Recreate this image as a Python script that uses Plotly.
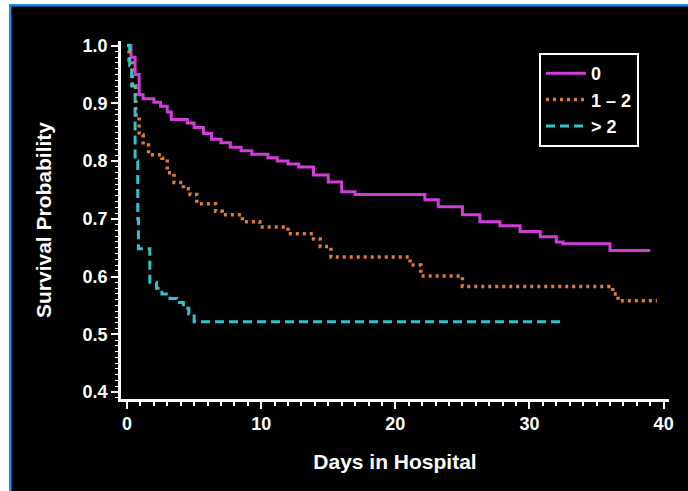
import plotly.graph_objects as go

# ---- data ----
days_0 = [0, 0.3, 0.6, 0.9, 1.2, 2.0, 2.5, 3.0, 3.3, 4.5, 5.0, 5.7, 6.3, 7.0, 7.7, 8.5, 9.3,
          10.5, 11.2, 12.0, 12.8, 13.9, 15.0, 16.0, 17.0, 22.2, 23.2, 25.0, 26.3, 27.8, 29.3,
          30.8, 32.0, 32.5, 36.0, 39.0]
surv_0 = [1.0, 0.98, 0.95, 0.915, 0.908, 0.902, 0.895, 0.885, 0.872, 0.866, 0.858, 0.848, 0.838,
          0.832, 0.824, 0.818, 0.812, 0.806, 0.800, 0.795, 0.790, 0.776, 0.764, 0.747, 0.742,
          0.733, 0.721, 0.707, 0.695, 0.688, 0.678, 0.669, 0.660, 0.657, 0.645, 0.645]

days_12 = [0, 0.15, 0.4, 0.65, 0.9, 1.2, 1.6, 2.6, 3.0, 3.5, 4.2, 4.7, 5.2, 6.6, 7.1, 8.6, 9.9,
           12.0, 13.9, 14.4, 15.2, 21.1, 21.9, 25.0, 36.2, 36.6, 39.5]
surv_12 = [1.0, 0.975, 0.93, 0.88, 0.845, 0.828, 0.811, 0.805, 0.78, 0.763, 0.752, 0.742, 0.726,
           0.713, 0.707, 0.695, 0.686, 0.674, 0.665, 0.652, 0.634, 0.62, 0.601, 0.583, 0.57,
           0.558, 0.558]

days_gt2 = [0, 0.2, 0.35, 0.6, 0.8, 0.85, 1.7, 2.2, 2.6, 3.2, 3.7, 4.2, 4.6, 5.0, 32.4]
surv_gt2 = [1.0, 0.965, 0.93, 0.80, 0.70, 0.648, 0.59, 0.58, 0.57, 0.562, 0.555, 0.545, 0.535,
            0.522, 0.522]

series_names = ["0", "1 \u2013 2", "> 2"]
x_ticks = [0, 10, 20, 30, 40]
y_ticks = [0.4, 0.5, 0.6, 0.7, 0.8, 0.9, 1.0]
y_tick_labels = ["0.4", "0.5", "0.6", "0.7", "0.8", "0.9", "1.0"]

FONT = "Liberation Sans, Arial, sans-serif"

fig = go.Figure()
fig.add_trace(go.Scatter(x=days_0, y=surv_0, mode="lines", name=series_names[0],
                         line=dict(color="#d13ddb", width=3, shape="hv")))
fig.add_trace(go.Scatter(x=days_12, y=surv_12, mode="lines", name=series_names[1],
                         line=dict(color="#e07b38", width=3.5, shape="hv", dash="3px,4px")))
fig.add_trace(go.Scatter(x=days_gt2, y=surv_gt2, mode="lines", name=series_names[2],
                         line=dict(color="#33c4c9", width=3, shape="hv", dash="9px,5px")))

axis_common = dict(
    showgrid=False, zeroline=False, showline=True, linecolor="white", linewidth=2.5,
    ticks="outside", tickcolor="white", tickwidth=2, ticklen=7,
    tickfont=dict(family=FONT, size=18, color="white", weight="bold"),
)

fig.update_xaxes(**axis_common, range=[-0.45, 40.4], tickvals=x_ticks,
                 minor=dict(dtick=1, ticks="outside", ticklen=4, tickwidth=1.5, tickcolor="white"),
                 title=dict(text="Days in Hospital", standoff=21,
                            font=dict(family=FONT, size=21, color="white", weight="bold")))
fig.update_yaxes(**axis_common, range=[0.388, 1.008], tickvals=y_ticks, ticktext=y_tick_labels,
                 minor=dict(dtick=0.01, ticks="outside", ticklen=3, tickwidth=1, tickcolor="white"),
                 title=dict(text="Survival Probability", standoff=26,
                            font=dict(family=FONT, size=21, color="white", weight="bold")))

# frame decoration (white strips with blue edge on left and top)
W, H = 688, 491
L, R, T, B = 121, 19, 41, 92
pw, ph = W - L - R, H - T - B
def px_x(p):
    return (p - L) / pw
def px_y(p):
    return (H - B - p) / ph

shapes = [
    dict(type="rect", xref="paper", yref="paper", x0=px_x(-2), x1=px_x(9), y0=px_y(H + 2), y1=px_y(-2),
         fillcolor="white", line_width=0, layer="above"),
    dict(type="rect", xref="paper", yref="paper", x0=px_x(-2), x1=px_x(W + 2), y0=px_y(4), y1=px_y(-2),
         fillcolor="white", line_width=0, layer="above"),
    dict(type="rect", xref="paper", yref="paper", x0=px_x(9), x1=px_x(11.5), y0=px_y(H + 2), y1=px_y(4),
         fillcolor="#1e88e5", line_width=0, layer="above"),
    dict(type="rect", xref="paper", yref="paper", x0=px_x(9), x1=px_x(W + 2), y0=px_y(6.5), y1=px_y(4),
         fillcolor="#1e88e5", line_width=0, layer="above"),
]

fig.update_layout(
    width=W, height=H,
    margin=dict(l=L, r=R, t=T, b=B),
    paper_bgcolor="black", plot_bgcolor="black",
    showlegend=True,
    legend=dict(x=px_x(539), y=px_y(53), xanchor="left", yanchor="top",
                bgcolor="black", bordercolor="white", borderwidth=2,
                font=dict(family=FONT, size=18, color="white", weight="bold"),
                tracegroupgap=0, itemwidth=40),
    shapes=shapes,
)

fig.write_html("out.html", config={"displayModeBar": False},
               post_script="document.body.style.margin='0';document.body.style.background='black';")
